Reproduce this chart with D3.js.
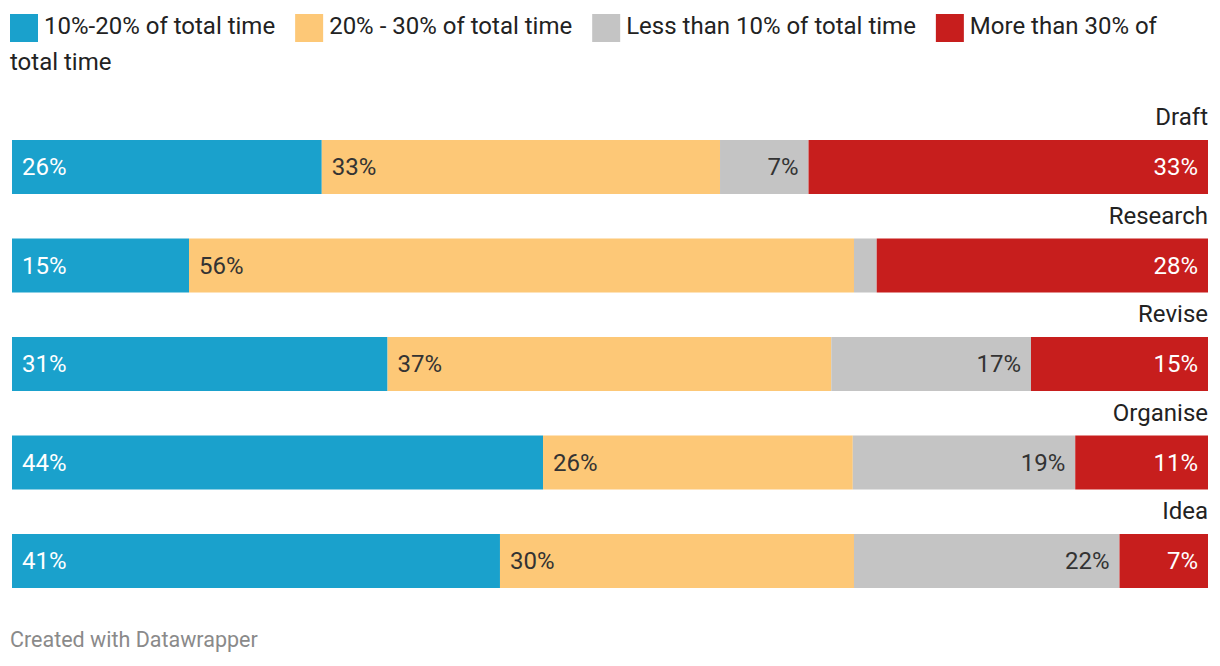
<!DOCTYPE html>
<html>
<head>
<meta charset="utf-8">
<script src="https://cdn.jsdelivr.net/npm/d3@7"></script>
<style>
  html, body { margin: 0; padding: 0; background: #fff; }
  svg { display: block; font-family: Roboto, "Noto Sans", sans-serif; }
</style>
</head>
<body>
<svg id="chart" width="1220" height="666"></svg>
<script>
// ---- Data ----
const categories = ["Draft", "Research", "Revise", "Organise", "Idea"];
const seriesNames = ["10%-20% of total time", "20% - 30% of total time", "Less than 10% of total time", "More than 30% of total time"];
const share10to20 = [25.9, 14.8, 31.4, 44.4, 40.8];
const share20to30 = [33.3, 55.6, 37.1, 25.9, 29.6];
const shareUnder10 = [7.4, 1.9, 16.7, 18.6, 22.2];
const shareOver30 = [33.4, 27.7, 14.8, 11.1, 7.4];
const colors = ["#1aa1cc", "#fdc877", "#c4c4c4", "#c71e1d"];
const labelColors = ["#ffffff", "#333333", "#333333", "#ffffff"];
const labelAlign = ["start", "start", "end", "end"];

const seriesValues = [share10to20, share20to30, shareUnder10, shareOver30];
const rows = categories.map((c, i) => {
  const r = { category: c };
  seriesNames.forEach((s, j) => r[s] = seriesValues[j][i]);
  return r;
});

const svg = d3.select("#chart");
const x = d3.scaleLinear().domain([0, 100]).range([12, 1208]);
const y = d3.scaleBand().domain(categories).range([140, 588]).paddingInner(44.5 / 98.5);

const stacked = d3.stack().keys(seriesNames)(rows);

// ---- Legend (wrapping) ----
const legend = svg.append("g").attr("class", "legend");
const fontLegend = 24;
const measure = svg.append("text").attr("font-size", fontLegend).attr("visibility", "hidden");
function tw(str) { measure.text(str); return measure.node().getComputedTextLength(); }
let lx = 10, line = 0;
const lineH = 36, base0 = 34, rightLimit = 1195;
seriesNames.forEach((name, i) => {
  if (lx + 28 > rightLimit) { lx = 10; line++; }
  legend.append("rect")
    .attr("x", lx).attr("y", 14 + line * lineH)
    .attr("width", 28).attr("height", 28)
    .attr("fill", colors[i]);
  lx += 34;
  const words = name.split(" ");
  let cur = "", curX = lx;
  const flush = () => {
    if (cur) legend.append("text").attr("x", curX).attr("y", base0 + line * lineH)
      .attr("font-size", fontLegend).attr("fill", "#222").text(cur);
  };
  words.forEach(w => {
    const cand = cur ? cur + " " + w : w;
    if (curX + tw(cand) > rightLimit && cur) {
      flush();
      line++; curX = 10; cur = w;
    } else cur = cand;
  });
  flush();
  lx = curX + tw(cur) + 20;
});
measure.remove();

// ---- Category labels ----
svg.append("g").selectAll("text").data(categories).join("text")
  .attr("x", 1208)
  .attr("y", d => y(d) - 15)
  .attr("text-anchor", "end")
  .attr("font-size", 24)
  .attr("fill", "#222")
  .text(d => d);

// ---- Bars ----
const groups = svg.append("g").selectAll("g").data(stacked).join("g")
  .attr("fill", (d, i) => colors[i]);
groups.selectAll("rect").data(d => d).join("rect")
  .attr("x", d => x(d[0]))
  .attr("y", d => y(d.data.category))
  .attr("width", d => x(d[1]) - x(d[0]))
  .attr("height", y.bandwidth());

// ---- Value labels ----
const lab = svg.append("g");
stacked.forEach((s, i) => {
  s.forEach(d => {
    const v = d[1] - d[0];
    const txt = Math.round(v) + "%";
    const w = x(d[1]) - x(d[0]);
    const t = lab.append("text")
      .attr("font-size", 24)
      .attr("fill", labelColors[i])
      .attr("text-anchor", labelAlign[i])
      .attr("x", labelAlign[i] === "start" ? x(d[0]) + 10 : x(d[1]) - 10)
      .attr("y", y(d.data.category) + y.bandwidth() / 2)
      .attr("dy", "0.35em")
      .text(txt);
    if (t.node().getComputedTextLength() + 16 > w) t.remove();
  });
});

// ---- Footer ----
svg.append("text")
  .attr("x", 10).attr("y", 647)
  .attr("font-size", 21.5)
  .attr("fill", "#8a8a8a")
  .text("Created with Datawrapper");
</script>
</body>
</html>
